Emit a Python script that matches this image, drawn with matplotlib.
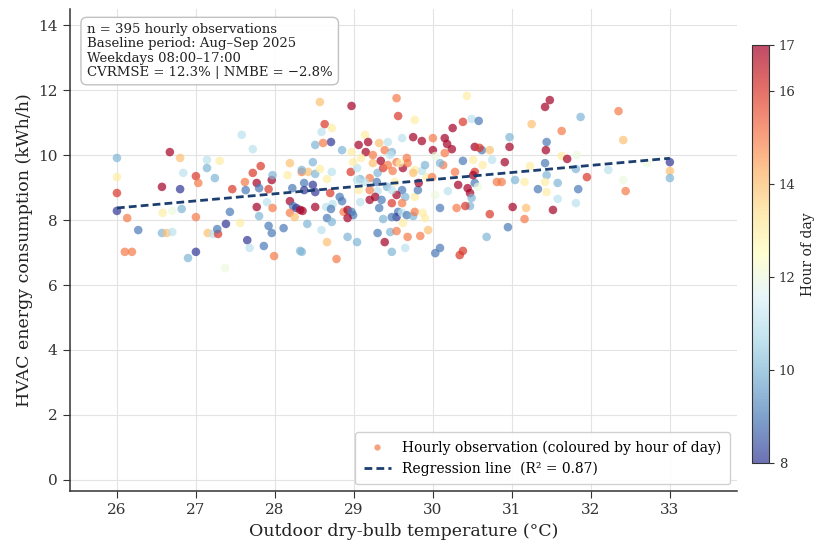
import numpy as np
import matplotlib
matplotlib.use("Agg")
import matplotlib.pyplot as plt
from matplotlib.lines import Line2D
from matplotlib.colors import Normalize

plt.rcParams["font.family"] = "DejaVu Serif"

# --- Data ---
TEMP = [
    26.00, 26.00, 26.00, 26.00, 26.13, 26.27, 26.10, 26.19, 26.67, 26.80,
    26.57, 26.80, 26.84, 26.70, 26.82, 26.58, 26.57, 26.63, 26.70, 26.90,
    27.00, 27.00, 27.00, 27.03, 27.14, 27.14, 27.30, 27.24, 27.15, 27.22,
    27.28, 27.27, 27.38, 27.43, 27.46, 27.56, 27.58, 27.72, 27.65, 27.68,
    27.37, 27.62, 27.72, 27.82, 27.77, 27.80, 27.63, 27.77, 27.80, 27.92,
    27.86, 27.92, 27.96, 27.99, 27.96, 27.97, 27.90, 27.97, 28.11, 28.19,
    28.16, 28.22, 28.19, 28.23, 28.27, 28.32, 28.19, 28.25, 28.32, 28.41,
    28.34, 28.42, 28.57, 28.97, 29.54, 29.56, 30.43, 28.63, 28.72, 28.59,
    29.77, 30.25, 30.38, 30.49, 30.58, 31.25, 31.48, 28.71, 28.51, 28.61,
    28.85, 28.97, 29.14, 29.18, 29.06, 29.15, 29.32, 29.43, 29.48, 29.39,
    29.61, 29.75, 29.86, 30.00, 30.00, 30.15, 30.18, 30.24, 30.15, 30.53,
    30.62, 30.59, 30.72, 30.97, 30.97, 31.44, 31.43, 28.48, 28.34, 28.51,
    28.57, 28.72, 28.66, 28.48, 28.37, 28.37, 28.51, 28.70, 28.82, 28.85,
    28.73, 28.65, 28.51, 28.35, 28.71, 28.87, 28.92, 28.97, 28.99, 28.92,
    28.66, 28.72, 28.59, 28.66, 28.92, 29.04, 28.78, 28.34, 28.96, 29.04,
    29.08, 29.20, 29.24, 29.34, 29.30, 29.37, 29.43, 29.49, 29.54, 29.62,
    29.67, 29.68, 29.58, 29.46, 29.24, 29.09, 28.99, 29.04, 29.14, 29.29,
    29.42, 29.52, 29.61, 29.65, 29.54, 29.48, 29.30, 29.20, 29.27, 29.20,
    29.08, 29.06, 29.35, 29.48, 29.61, 29.77, 29.81, 29.82, 29.92, 29.86,
    29.99, 29.90, 29.77, 29.75, 29.32, 29.56, 29.54, 29.61, 29.67, 29.75,
    29.77, 29.87, 29.90, 29.37, 29.48, 29.62, 29.30, 29.46, 29.54, 29.68,
    29.84, 29.94, 29.39, 29.48, 29.65, 30.03, 30.09, 30.34, 30.38, 30.09,
    30.19, 30.03, 30.32, 30.44, 30.47, 30.49, 30.47, 30.41, 30.30, 30.53,
    30.57, 30.81, 30.87, 31.04, 31.16, 31.33, 31.44, 31.01, 31.18, 30.72,
    30.95, 31.16, 30.68, 30.13, 30.28, 30.38, 30.53, 30.51, 30.75, 30.91,
    30.51, 30.63, 31.23, 31.42, 30.09, 30.03, 31.42, 31.87, 32.35, 31.63,
    32.41, 31.63, 31.82, 31.70, 31.44, 31.42, 31.58, 31.81, 31.95, 31.84,
    31.58, 31.81, 31.52, 32.22, 32.41, 32.44, 32.71, 33.00, 33.00, 33.00,
]
ENERGY = [
    9.91, 9.32, 8.83, 8.28, 8.06, 7.69, 7.02, 7.02, 10.09, 9.91,
    9.02, 8.95, 9.45, 8.28, 8.34, 8.22, 7.60, 7.60, 7.63, 6.83,
    7.02, 8.09, 9.35, 9.14, 9.85, 9.60, 9.82, 9.29, 7.60, 7.57,
    7.57, 7.72, 7.88, 8.25, 8.95, 7.91, 10.62, 10.18, 7.38, 7.14,
    6.52, 9.17, 9.45, 9.66, 9.14, 8.98, 8.92, 8.40, 8.12, 8.95,
    7.20, 7.82, 7.60, 6.89, 9.23, 9.38, 8.55, 8.37, 7.75, 9.75,
    9.38, 8.98, 8.58, 8.43, 8.37, 8.31, 8.22, 8.09, 7.05, 7.88,
    9.48, 9.48, 11.63, 11.51, 11.75, 11.20, 11.82, 10.95, 10.83, 10.71,
    11.08, 10.83, 11.02, 11.11, 11.05, 10.95, 11.69, 10.40, 10.31, 10.37,
    10.15, 10.09, 10.62, 10.40, 10.31, 10.09, 10.37, 10.40, 10.09, 10.15,
    10.52, 10.55, 10.43, 10.52, 10.15, 10.52, 10.34, 10.18, 10.06, 10.25,
    10.15, 10.22, 10.15, 10.55, 10.25, 10.40, 10.15, 9.78, 9.54, 9.42,
    9.57, 9.48, 9.26, 9.08, 9.14, 8.92, 8.86, 8.83, 8.71, 8.58,
    8.49, 8.40, 8.40, 8.28, 8.34, 8.25, 8.31, 8.25, 8.15, 8.06,
    8.06, 7.94, 7.69, 7.32, 7.48, 7.32, 6.80, 7.02, 9.48, 9.60,
    9.26, 9.29, 9.75, 9.82, 9.45, 9.60, 9.69, 9.51, 9.78, 9.60,
    9.91, 9.75, 9.75, 10.00, 10.00, 9.91, 9.78, 9.23, 9.17, 9.17,
    9.02, 9.17, 8.92, 8.71, 8.77, 8.92, 8.89, 8.92, 8.71, 8.62,
    8.55, 8.92, 8.62, 8.52, 8.52, 8.71, 8.92, 9.14, 9.32, 9.51,
    9.32, 9.69, 9.54, 9.45, 8.37, 8.25, 8.09, 8.22, 8.15, 8.12,
    8.25, 8.22, 8.06, 8.03, 8.09, 7.91, 7.60, 7.63, 7.66, 7.48,
    7.51, 7.69, 7.32, 7.02, 7.14, 6.98, 7.14, 6.92, 7.05, 8.37,
    8.89, 8.77, 9.08, 8.98, 8.83, 8.68, 8.43, 8.43, 8.37, 9.14,
    9.02, 9.17, 9.17, 9.23, 9.17, 8.95, 8.86, 8.40, 8.37, 8.18,
    7.78, 8.03, 7.48, 9.69, 9.48, 9.82, 9.48, 9.38, 9.85, 9.78,
    9.85, 9.69, 9.66, 9.75, 9.75, 9.97, 11.48, 11.17, 11.35, 10.74,
    10.46, 9.97, 10.00, 9.88, 9.38, 9.17, 9.14, 9.57, 9.32, 8.95,
    8.65, 8.52, 8.31, 9.54, 9.23, 8.89, 9.75, 9.78, 9.51, 9.29,
]
HOUR = [
    10, 13, 16, 8, 15, 9, 15, 15, 17, 14,
    17, 8, 11, 12, 10, 13, 10, 14, 11, 10,
    8, 15, 16, 15, 11, 10, 13, 10, 14, 11,
    16, 9, 8, 9, 16, 13, 11, 11, 8, 11,
    12, 15, 16, 16, 17, 9, 9, 17, 10, 16,
    9, 9, 9, 15, 17, 10, 11, 15, 9, 14,
    13, 9, 17, 9, 8, 17, 15, 14, 10, 10,
    15, 14, 14, 17, 15, 16, 13, 16, 13, 11,
    13, 17, 16, 11, 9, 14, 17, 8, 10, 15,
    10, 13, 13, 17, 17, 17, 14, 11, 10, 15,
    11, 17, 17, 15, 17, 17, 17, 17, 15, 17,
    9, 16, 14, 10, 17, 9, 17, 10, 10, 10,
    13, 11, 13, 8, 9, 8, 8, 16, 9, 9,
    11, 11, 17, 17, 9, 15, 17, 9, 9, 17,
    9, 10, 11, 14, 10, 10, 15, 10, 16, 11,
    10, 15, 14, 17, 10, 16, 15, 15, 15, 17,
    15, 15, 13, 11, 15, 13, 13, 11, 11, 9,
    10, 13, 9, 10, 17, 11, 11, 15, 17, 17,
    11, 13, 9, 16, 15, 13, 9, 17, 13, 11,
    15, 10, 13, 14, 9, 9, 8, 11, 9, 10,
    15, 13, 13, 10, 9, 13, 9, 10, 15, 15,
    15, 14, 17, 10, 11, 9, 9, 16, 16, 9,
    11, 12, 17, 17, 17, 10, 10, 16, 15, 9,
    12, 15, 15, 10, 13, 9, 13, 17, 14, 16,
    9, 15, 10, 15, 15, 9, 16, 17, 11, 17,
    13, 13, 13, 9, 10, 12, 17, 10, 15, 15,
    14, 13, 12, 17, 10, 13, 10, 10, 16, 9,
    11, 11, 17, 11, 12, 15, 12, 8, 14, 10,
]
REG_T = [26.0, 33.0]
REG_E = [8.37, 9.90]

INFO = ("n = 395 hourly observations\n"
        "Baseline period: Aug\u2013Sep 2025\n"
        "Weekdays 08:00\u201317:00\n"
        "CVRMSE = 12.3% | NMBE = \u22122.8%")

REG_COLOR = "#1d3f70"
HOUR_MIN, HOUR_MAX = 8, 17

# --- Figure ---
fig = plt.figure(figsize=(8.18, 5.49), dpi=100)
ax = fig.add_axes([0.085, 0.105, 0.816, 0.879])
cax = fig.add_axes([0.919, 0.157, 0.021, 0.761])

cmap = plt.get_cmap("RdYlBu_r")
norm = Normalize(vmin=HOUR_MIN, vmax=HOUR_MAX)

sc = ax.scatter(TEMP, ENERGY, c=HOUR, cmap=cmap, norm=norm, s=38,
                alpha=0.7, edgecolors="none", zorder=3)
ax.plot(REG_T, REG_E, color=REG_COLOR, lw=2.0, ls="--", dashes=(2.8, 1.5),
        zorder=4)

ax.set_xlim(25.4, 33.85)
ax.set_ylim(-0.35, 14.5)
ax.set_xticks(range(26, 34))
ax.set_yticks(range(0, 15, 2))
ax.grid(True, color="#e3e3e3", linewidth=0.8, zorder=0)
ax.set_axisbelow(True)
for side in ("top", "right"):
    ax.spines[side].set_visible(False)
for side in ("left", "bottom"):
    ax.spines[side].set_color("#333333")
    ax.spines[side].set_linewidth(1.1)
ax.tick_params(labelsize=11, colors="#333333", length=5)

ax.set_xlabel("Outdoor dry-bulb temperature (\u00b0C)", fontsize=12.5,
              color="#222222")
ax.set_ylabel("HVAC energy consumption (kWh/h)", fontsize=12.5,
              color="#222222")

ax.text(0.026, 0.97, INFO, transform=ax.transAxes, va="top", ha="left",
        fontsize=9.5, color="#222222", linespacing=1.12,
        bbox=dict(boxstyle="round,pad=0.45", facecolor="white",
                  edgecolor="#bbbbbb", alpha=0.9))

handles = [
    Line2D([], [], marker="o", ls="none", markersize=4.5,
           markerfacecolor=cmap(norm(15)), markeredgecolor="none", alpha=0.7),
    Line2D([], [], color=REG_COLOR, lw=2.0, ls="--", dashes=(2.8, 1.5)),
]
labels = ["Hourly observation (coloured by hour of day)",
          "Regression line  (R\u00b2 = 0.87)"]
ax.legend(handles, labels, loc="lower right", fontsize=10, framealpha=0.9,
          edgecolor="#cccccc", borderpad=0.6)

cbar = fig.colorbar(sc, cax=cax, ticks=[8, 10, 12, 14, 16, 17])
cbar.set_label("Hour of day", fontsize=10, color="#222222", labelpad=4)
cbar.ax.tick_params(labelsize=9.5, colors="#333333")
cbar.outline.set_edgecolor("#333333")

fig.savefig("out.png", dpi=100)
